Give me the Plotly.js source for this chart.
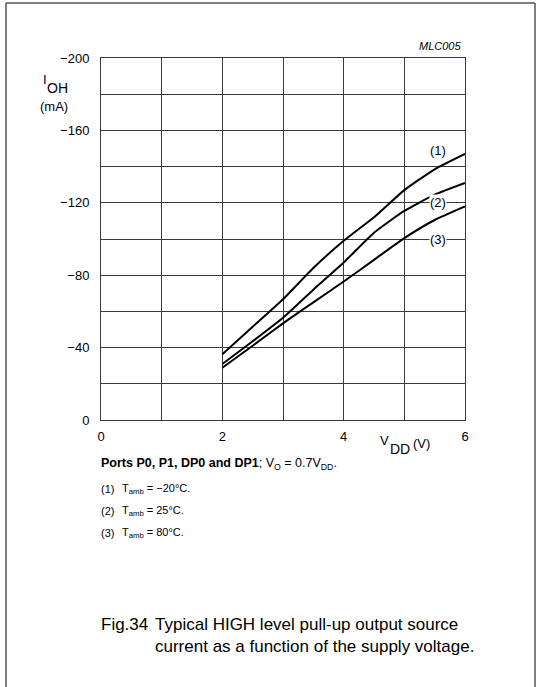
<!DOCTYPE html>
<html>
<head>
<meta charset="utf-8">
<script src="https://cdn.plot.ly/plotly-3.0.1.min.js"></script>
<style>
html,body{margin:0;padding:0;background:#fff;}
#chart{width:541px;height:687px;}
</style>
</head>
<body>
<div id="chart"></div>
<script>
// ---- data ----
const vdd = [2, 2.5, 3, 3.5, 4, 4.5, 5, 5.5, 6];
const ioh_m20 = [-36.3, -51.5, -66.7, -84, -99, -112, -127, -138.5, -147];   // (1) Tamb = -20 C
const ioh_25  = [-30.9, -43.5, -56.5, -72, -87, -103.5, -115.5, -124.5, -131]; // (2) Tamb = 25 C
const ioh_80  = [-28.9, -41, -53.4, -65, -76.5, -88.5, -100.5, -110.5, -118]; // (3) Tamb = 80 C
const curveLabels = ['(1)', '(2)', '(3)'];
const labelX = [5.55, 5.55, 5.55];
const labelY = [-149, -120, -100];
const xTickVals = [0, 2, 4, 6];
const yTickVals = [0, -40, -80, -120, -160, -200];

// ---- layout geometry (pixels) ----
const W = 541, H = 687;
const L = 101, R = 465, T = 58, B = 420;
const px = x => (x - L) / (R - L);
const py = y => (B - y) / (B - T);

const FONT = 'Liberation Sans, Arial, Helvetica, sans-serif';
const line = {color: '#000', width: 2, shape: 'spline', smoothing: 0.5};

const traces = [ioh_m20, ioh_25, ioh_80].map((ys, i) => ({
  x: vdd, y: ys, type: 'scatter', mode: 'lines', line: line,
  hoverinfo: 'skip', showlegend: false, name: curveLabels[i]
}));

const gridColor = '#3a3a3a';
const ann = [];
curveLabels.forEach((t, i) => ann.push({
  x: labelX[i], y: labelY[i], xref: 'x', yref: 'y', text: t, showarrow: false,
  font: {family: FONT, size: 13, color: '#000'}, bgcolor: '#fff', borderpad: 0,
  xanchor: 'center', yanchor: 'middle'
}));
function txt(x, y, text, size, opts) {
  ann.push(Object.assign({
    x: px(x), y: py(y), xref: 'paper', yref: 'paper', text: text, showarrow: false,
    font: {family: FONT, size: size, color: '#000'}, xanchor: 'left', yanchor: 'middle'
  }, opts || {}));
}
// y-axis title  I_OH (mA)
txt(41, 80, 'I', 13, {xanchor: 'left'});
txt(45, 88, 'OH', 14, {xanchor: 'left'});
txt(54, 106, '(mA)', 13, {xanchor: 'center'});
txt(463, 46, '<i>MLC005</i>', 11, {xanchor: 'right'});
// x-axis title  V_DD (V)
txt(378, 440, 'V', 13, {xanchor: 'left'});
txt(388, 449, 'DD', 14, {xanchor: 'left'});
txt(411, 443, '(V)', 13, {xanchor: 'left'});
txt(99, 464, '<b>Ports P0, P1, DP0 and DP1</b>; V<sub>O</sub> = 0.7V<sub>DD</sub>.', 12.5);
const notes = ['T<sub>amb</sub> = \u221220\u00b0C.', 'T<sub>amb</sub> = 25\u00b0C.', 'T<sub>amb</sub> = 80\u00b0C.'];
notes.forEach((n, i) => { txt(99, 489 + 22 * i, curveLabels[i], 11); txt(120, 489 + 22 * i, n, 11); });
txt(99, 624, 'Fig.34', 17);
txt(153, 635.5, 'Typical HIGH level pull-up output source<br>current as a function of the supply voltage.', 17, {align: 'left'});

const shapes = [
  {type: 'line', xref: 'paper', yref: 'paper', x0: px(6), x1: px(6), y0: py(3), y1: py(700), line: {color: '#555', width: 1.5}},
  {type: 'line', xref: 'paper', yref: 'paper', x0: px(6), x1: px(535), y0: py(3), y1: py(3), line: {color: '#555', width: 1.5}},
  {type: 'line', xref: 'paper', yref: 'paper', x0: px(535), x1: px(535), y0: py(3), y1: py(700), line: {color: '#555', width: 1.5}}
];

const layout = {
  width: W, height: H,
  margin: {l: L, r: W - R, t: T, b: H - B, pad: 0},
  paper_bgcolor: '#fff', plot_bgcolor: '#fff',
  font: {family: FONT, size: 13, color: '#000'},
  showlegend: false,
  xaxis: {
    range: [0, 6], tickvals: xTickVals, ticks: '', showline: true, mirror: true,
    linecolor: gridColor, linewidth: 1, showgrid: true, gridcolor: gridColor, gridwidth: 1,
    minor: {dtick: 1, showgrid: true, gridcolor: gridColor, gridwidth: 1},
    zeroline: false, tickfont: {family: FONT, size: 13}, ticklabelstandoff: 4, fixedrange: true
  },
  yaxis: {
    range: [0, -200], tickvals: yTickVals, ticks: '', showline: true, mirror: true,
    linecolor: gridColor, linewidth: 1, showgrid: true, gridcolor: gridColor, gridwidth: 1,
    minor: {dtick: 20, tick0: 0, showgrid: true, gridcolor: gridColor, gridwidth: 1},
    zeroline: false, tickfont: {family: FONT, size: 13}, ticklabelstandoff: 8, fixedrange: true
  },
  annotations: ann,
  shapes: shapes
};

Plotly.newPlot('chart', traces, layout, {staticPlot: true, displayModeBar: false});
</script>
</body>
</html>
